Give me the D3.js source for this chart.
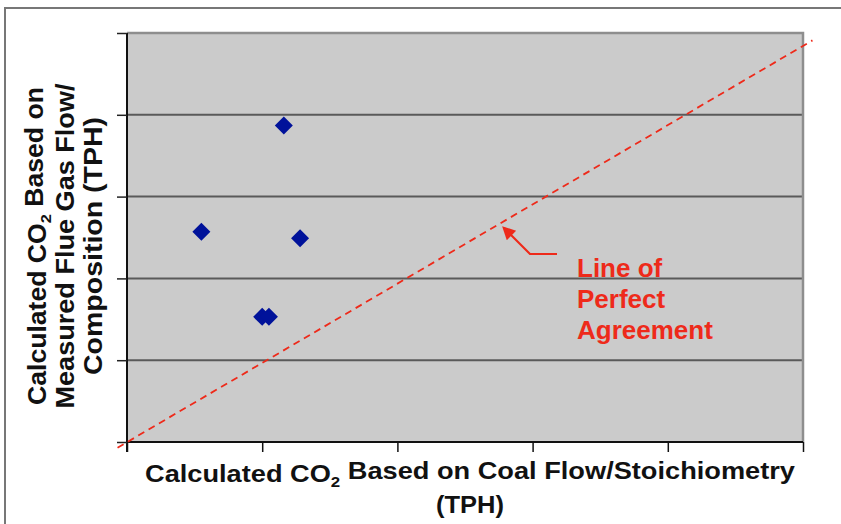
<!DOCTYPE html>
<html>
<head>
<meta charset="utf-8">
<script src="https://cdn.jsdelivr.net/npm/d3@7"></script>
<style>
  body { margin: 0; background: #fff; }
  svg { display: block; }
  text { font-family: "Liberation Sans", Arial, sans-serif; font-weight: bold; }
</style>
</head>
<body>
<svg></svg>
<script>
var width = 841;
var height = 524;

// tick positions (no tick labels in the original)
var x_ticks = [0, 1, 2, 3, 4, 5];
var y_ticks = [0, 1, 2, 3, 4, 5];

// measured points (coal flow based, flue gas based)
var point_x = [0.55, 1.16, 1.28, 1.00, 1.05];
var point_y = [2.57, 3.87, 2.49, 1.53, 1.53];

// line of perfect agreement end points
var line_x = [-0.07, 5.07];
var line_y = [-0.07, 4.91];

var y_label = ["Calculated CO|2| Based on", "Measured Flue Gas Flow/", "Composition (TPH)"];
var x_label = ["Calculated CO|2| Based on Coal Flow/Stoichiometry", "(TPH)"];
var note_lines = ["Line of", "Perfect", "Agreement"];

var plot = { left: 127, right: 803, top: 33, bottom: 442 };
var red = "#ee2a1a";

var x = d3.scaleLinear().domain([0, 5]).range([plot.left, plot.right]);
var y = d3.scaleLinear().domain([0, 5]).range([plot.bottom, plot.top]);

var svg = d3.select("svg")
    .attr("width", width)
    .attr("height", height);

// outer frame
svg.append("path")
    .attr("d", "M5," + height + "V8H" + width)
    .attr("fill", "none")
    .attr("stroke", "#777")
    .attr("stroke-width", 2);

// plot area
svg.append("rect")
    .attr("x", plot.left)
    .attr("y", plot.top)
    .attr("width", plot.right - plot.left)
    .attr("height", plot.bottom - plot.top)
    .attr("fill", "#cbcbcb");

// gridlines
svg.append("g").selectAll("line")
    .data(y_ticks.slice(1, -1))
  .enter().append("line")
    .attr("x1", plot.left)
    .attr("x2", plot.right)
    .attr("y1", function(d) { return y(d); })
    .attr("y2", function(d) { return y(d); })
    .attr("stroke", "#5a5a5a")
    .attr("stroke-width", 2);

// top / right border
svg.append("path")
    .attr("d", "M" + plot.left + "," + plot.top + "H" + plot.right + "V" + plot.bottom)
    .attr("fill", "none")
    .attr("stroke", "#8e8e8e")
    .attr("stroke-width", 2.5);

// axes
var x_axis = d3.axisBottom(x).tickValues(x_ticks).tickSize(10).tickFormat("");
var y_axis = d3.axisLeft(y).tickValues(y_ticks).tickSize(10).tickFormat("");

svg.append("g")
    .attr("transform", "translate(0," + plot.bottom + ")")
    .call(x_axis)
    .call(function(g) {
        g.select(".domain").attr("d", "M" + plot.left + ",0H" + plot.right).attr("stroke", "#111").attr("stroke-width", 2);
        g.selectAll(".tick line").attr("stroke", "#111").attr("stroke-width", 1.5);
    });

svg.append("g")
    .attr("transform", "translate(" + plot.left + ",0)")
    .call(y_axis)
    .call(function(g) {
        g.select(".domain").attr("d", "M0," + plot.top + "V" + (plot.bottom + 10)).attr("stroke", "#111").attr("stroke-width", 2);
        g.selectAll(".tick line").attr("stroke", "#222").attr("stroke-width", 1.5);
    });

// line of perfect agreement
svg.append("path")
    .datum(d3.zip(line_x, line_y))
    .attr("d", d3.line().x(function(d) { return x(d[0]); }).y(function(d) { return y(d[1]); }))
    .attr("fill", "none")
    .attr("stroke", red)
    .attr("stroke-width", 1.8)
    .attr("stroke-dasharray", "7,5");

// points (diamonds)
var dsize = 9;
svg.append("g").selectAll("path")
    .data(d3.zip(point_x, point_y))
  .enter().append("path")
    .attr("transform", function(d) { return "translate(" + x(d[0]) + "," + y(d[1]) + ")"; })
    .attr("d", "M0," + (-dsize) + "L" + dsize + ",0L0," + dsize + "L" + (-dsize) + ",0Z")
    .attr("fill", "#00129a");

// arrow pointing at the line
var note_x = 577;
svg.append("defs").append("marker")
    .attr("id", "arrow")
    .attr("viewBox", "0 0 10 10")
    .attr("refX", 8)
    .attr("refY", 5)
    .attr("markerWidth", 7)
    .attr("markerHeight", 6)
    .attr("orient", "auto")
    .attr("markerUnits", "strokeWidth")
  .append("path")
    .attr("d", "M0,0L10,5L0,10Z")
    .attr("fill", red);

svg.append("path")
    .attr("d", "M557,254H530L504,228")
    .attr("fill", "none")
    .attr("stroke", red)
    .attr("stroke-width", 2.2)
    .attr("marker-end", "url(#arrow)");

svg.append("g").selectAll("text")
    .data(note_lines)
  .enter().append("text")
    .attr("x", note_x)
    .attr("y", function(d, i) { return 277 + i * 31; })
    .attr("fill", red)
    .attr("font-size", 26)
    .text(function(d) { return d; });

// label with a subscript part written between bars
function add_label(sel, str) {
    var parts = str.split("|");
    parts.forEach(function(p, i) {
        var t = sel.append("tspan").text(p);
        if (i == 1) {
            t.attr("font-size", "0.62em").attr("dy", "0.35em");
        } else if (i == 2) {
            t.attr("dy", "-0.35em");
        }
    });
}

// y axis title
var y_lens = [318, 325, 258];
var ylab = svg.append("g")
    .attr("transform", "translate(0,246) rotate(-90)");
y_label.forEach(function(s, i) {
    var t = ylab.append("text")
        .attr("x", 0)
        .attr("y", 46 + i * 28)
        .attr("text-anchor", "middle")
        .attr("font-size", 25)
        .attr("fill", "#111")
        .attr("textLength", y_lens[i])
        .attr("lengthAdjust", "spacingAndGlyphs");
    add_label(t, s);
});

// x axis title
var x_lens = [650, 68];
x_label.forEach(function(s, i) {
    var t = svg.append("text")
        .attr("x", 470)
        .attr("y", 482 + i * 31)
        .attr("text-anchor", "middle")
        .attr("font-size", 24)
        .attr("fill", "#111")
        .attr("textLength", x_lens[i])
        .attr("lengthAdjust", "spacingAndGlyphs");
    add_label(t, s);
});
</script>
</body>
</html>
